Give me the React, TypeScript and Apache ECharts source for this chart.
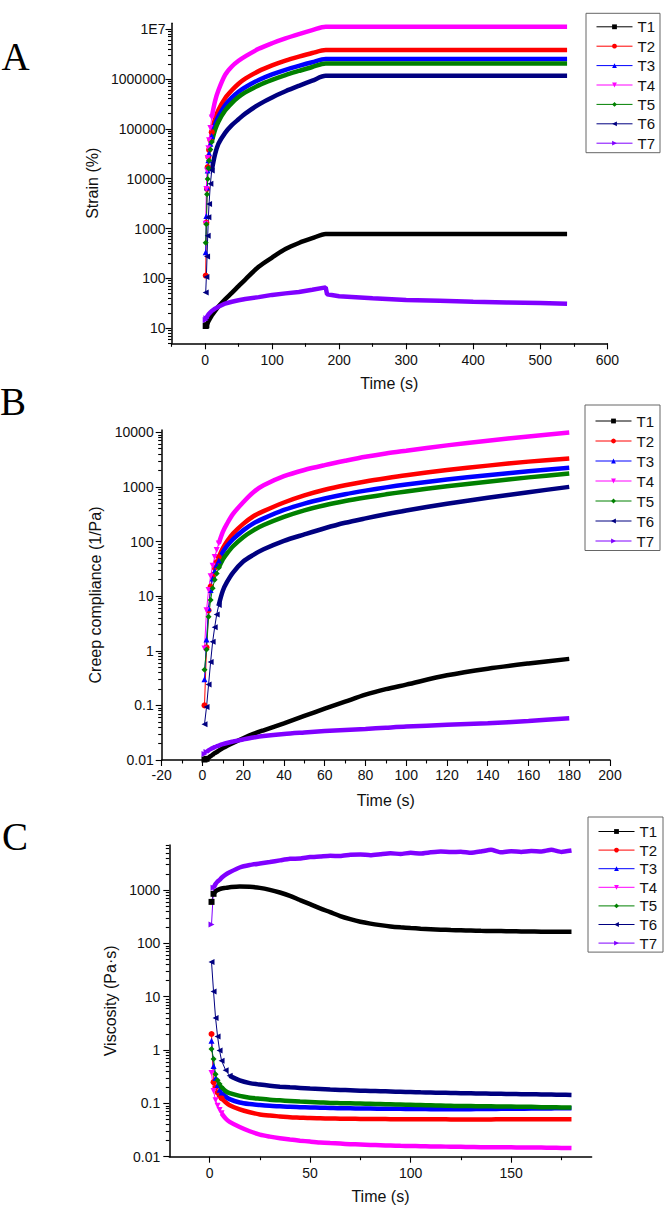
import React, { useEffect, useRef } from 'react';
import * as echarts from 'echarts';

const seriesNames = ['T1', 'T2', 'T3', 'T4', 'T5', 'T6', 'T7'];
const seriesColors = ['#000000', '#FF0000', '#0000FF', '#FF00FF', '#008000', '#000080', '#8000FF'];
const seriesSymbols = ['rect', 'circle', 'triangle', 'triangle', 'diamond', 'triangle', 'triangle'];
const symbolRotations = [0, 0, 0, 180, 0, 90, -90];

// ---------- Panel A : Strain (%) vs Time (s)
const timeA = [1, 2, 3, 4, 5, 6, 8, 10, 15, 20, 30, 40, 50, 60, 80, 100, 120, 140, 160, 180, 182, 200, 250, 300, 350, 400, 450, 500, 540];
const strainT1 = [11.1, 11.5, 12, 12.9, 13.7, 14.5, 16.2, 18, 22.4, 27.3, 38.2, 51.3, 70, 95, 171, 262, 388, 513, 639, 775, 775, 775, 775, 775, 775, 775, 775, 775, 775];
const strainT2 = [114, 1310, 6260, 17100, 27300, 37600, 59200, 85400, 159000, 239000, 410000, 590000, 797000, 1010000, 1430000, 1860000, 2320000, 2790000, 3300000, 3780000, 3780000, 3780000, 3780000, 3780000, 3780000, 3780000, 3780000, 3780000, 3780000];
const strainT3 = [334, 1780, 6670, 14500, 23400, 32200, 50000, 71200, 122000, 178000, 295000, 420000, 550000, 680000, 950000, 1230000, 1520000, 1820000, 2150000, 2490000, 2490000, 2490000, 2490000, 2490000, 2490000, 2490000, 2490000, 2490000, 2490000];
const strainT4 = [1240, 6200, 14600, 25900, 40500, 58600, 103600, 169000, 360000, 591000, 1200000, 1770000, 2300000, 2820000, 4000000, 5180000, 6470000, 7880000, 9460000, 11100000, 11100000, 11100000, 11100000, 11100000, 11100000, 11100000, 11100000, 11100000, 11100000];
const strainT5 = [520, 1220, 4870, 9850, 16200, 23200, 38200, 54500, 95000, 139000, 232000, 327000, 431000, 535000, 740000, 955000, 1190000, 1440000, 1730000, 2040000, 2040000, 2040000, 2040000, 2040000, 2040000, 2040000, 2040000, 2040000, 2040000];
const strainT6 = [52, 107, 276, 713, 1680, 3100, 7900, 14500, 31000, 50000, 82800, 118000, 155000, 201000, 305000, 425000, 564000, 725000, 920000, 1150000, 1150000, 1150000, 1150000, 1150000, 1150000, 1150000, 1150000, 1150000, 1150000];
const strainT7 = [14.7, 15.9, 17.1, 18, 18.8, 19.6, 20.9, 22.2, 24.8, 27.1, 31.3, 34.1, 36.4, 38.7, 42.1, 46.7, 50.1, 53.5, 59.2, 66, 48, 44, 40, 37, 35.5, 34, 33, 32, 31];

// ---------- Panel B : Creep compliance (1/Pa) vs Time (s)
const timeB = [1, 2, 3, 4, 5, 6, 7, 8, 10, 12, 15, 20, 25, 30, 40, 50, 60, 70, 80, 90, 100, 120, 140, 160, 180];
const complianceT1 = [0.0102, 0.0105, 0.011, 0.0118, 0.0125, 0.0133, 0.014, 0.0148, 0.0165, 0.018, 0.0205, 0.025, 0.03, 0.035, 0.047, 0.064, 0.087, 0.117, 0.157, 0.198, 0.24, 0.355, 0.47, 0.585, 0.71];
const complianceT2 = [0.1, 1.15, 5.5, 15, 24, 33, 42, 52, 75, 100, 140, 210, 290, 360, 518, 700, 887, 1070, 1255, 1440, 1633, 2037, 2450, 2900, 3320];
const complianceT3 = [0.3, 1.6, 6, 13, 21, 29, 37, 45, 64, 82, 110, 160, 215, 265, 378, 495, 612, 733, 854, 980, 1106, 1367, 1637, 1933, 2240];
const complianceT4 = [1.1, 5.5, 13, 23, 36, 52, 70, 92, 150, 210, 320, 525, 800, 1070, 1570, 2040, 2500, 3000, 3560, 4100, 4600, 5750, 7000, 8400, 9860];
const complianceT5 = [0.45, 1.05, 4.2, 8.5, 14, 20, 26, 33, 47, 60, 82, 120, 160, 200, 282, 372, 462, 550, 638, 730, 824, 1027, 1242, 1493, 1760];
const complianceT6 = [0.045, 0.093, 0.24, 0.62, 1.46, 2.7, 4.6, 6.9, 12.6, 18, 27, 43, 57, 72, 103, 135, 175, 220, 265, 315, 370, 490, 630, 800, 1000];
const complianceT7 = [0.0129, 0.014, 0.015, 0.0158, 0.0165, 0.0172, 0.0178, 0.0184, 0.0195, 0.0205, 0.0218, 0.0238, 0.0258, 0.0275, 0.03, 0.032, 0.034, 0.0355, 0.037, 0.039, 0.041, 0.044, 0.047, 0.052, 0.058];

// ---------- Panel C : Viscosity (Pa·s) vs Time (s)
const timeC = [1, 2, 3, 4, 5, 6, 8, 10, 15, 20, 25, 30, 35, 40, 45, 50, 55, 60, 65, 70, 75, 80, 85, 90, 95, 100, 105, 110, 115, 120, 125, 130, 135, 140, 145, 150, 155, 160, 165, 170, 175, 180];
const viscosityT1 = [600, 850, 950, 1000, 1040, 1070, 1100, 1130, 1170, 1150, 1100, 1010, 900, 780, 650, 545, 455, 385, 325, 285, 255, 235, 220, 208, 200, 194, 189, 185, 181, 178, 176, 174, 172, 171, 170, 169, 168, 167, 166, 166, 165, 165];
const viscosityT2 = [2.0, 0.25, 0.2, 0.16, 0.14, 0.125, 0.105, 0.092, 0.077, 0.068, 0.062, 0.059, 0.057, 0.055, 0.054, 0.053, 0.0525, 0.052, 0.0517, 0.0515, 0.0512, 0.051, 0.0508, 0.0506, 0.0505, 0.0504, 0.0503, 0.0502, 0.0502, 0.0501, 0.05, 0.05, 0.05, 0.0501, 0.0502, 0.0502, 0.0503, 0.0503, 0.0504, 0.0504, 0.0505, 0.0505];
const viscosityT3 = [1.5, 0.5, 0.3, 0.22, 0.18, 0.16, 0.135, 0.12, 0.104, 0.097, 0.093, 0.09, 0.088, 0.086, 0.085, 0.084, 0.083, 0.082, 0.081, 0.081, 0.08, 0.08, 0.0795, 0.079, 0.079, 0.0785, 0.0785, 0.078, 0.078, 0.078, 0.078, 0.078, 0.0785, 0.0785, 0.079, 0.079, 0.0795, 0.08, 0.08, 0.0805, 0.081, 0.081];
const viscosityT4 = [0.37, 0.17, 0.115, 0.09, 0.075, 0.065, 0.052, 0.045, 0.036, 0.03, 0.026, 0.0238, 0.0222, 0.021, 0.02, 0.0192, 0.0185, 0.018, 0.0176, 0.0172, 0.0169, 0.0166, 0.0164, 0.0162, 0.016, 0.0159, 0.0157, 0.0156, 0.0155, 0.0154, 0.0153, 0.0152, 0.0151, 0.0151, 0.015, 0.015, 0.0149, 0.0149, 0.0148, 0.0147, 0.0146, 0.0145];
const viscosityT5 = [1.05, 0.68, 0.35, 0.27, 0.23, 0.2, 0.17, 0.155, 0.138, 0.128, 0.122, 0.117, 0.114, 0.111, 0.108, 0.106, 0.104, 0.102, 0.101, 0.1, 0.099, 0.098, 0.097, 0.096, 0.095, 0.094, 0.093, 0.092, 0.091, 0.09, 0.089, 0.089, 0.088, 0.088, 0.087, 0.087, 0.086, 0.086, 0.085, 0.085, 0.084, 0.084];
const viscosityT6 = [45, 12.5, 4.0, 1.8, 0.98, 0.63, 0.42, 0.33, 0.27, 0.24, 0.225, 0.214, 0.206, 0.2, 0.195, 0.19, 0.186, 0.182, 0.179, 0.176, 0.173, 0.171, 0.169, 0.167, 0.165, 0.163, 0.161, 0.16, 0.158, 0.157, 0.155, 0.154, 0.153, 0.152, 0.151, 0.15, 0.149, 0.148, 0.147, 0.146, 0.145, 0.144];
const viscosityT7 = [227, 1100, 1300, 1450, 1550, 1700, 1950, 2150, 2650, 2950, 3150, 3350, 3600, 3850, 3900, 4150, 4250, 4400, 4350, 4600, 4650, 4500, 4700, 4900, 4750, 5000, 4850, 5100, 5300, 5150, 5250, 5000, 5300, 5700, 5100, 5350, 5200, 5400, 5300, 5700, 5200, 5500];

// ---------- Tick labels
const xTicksA = [0, 100, 200, 300, 400, 500, 600];
const xMinorA = [-50, 50, 150, 250, 350, 450, 550];
const xTicksB = [-20, 0, 20, 40, 60, 80, 100, 120, 140, 160, 180, 200];
const xMinorB = [-10, 10, 30, 50, 70, 90, 110, 130, 150, 170, 190];
const xTicksC = [0, 50, 100, 150];
const xMinorC = [25, 75, 125, 175];
const yTicksA = [10, 100, 1000, 10000, 100000, 1000000, 10000000];
const yTicksB = [0.01, 0.1, 1, 10, 100, 1000, 10000];
const yTicksC = [0.01, 0.1, 1, 10, 100, 1000];

const FONT = "'Liberation Sans', Arial, sans-serif";
const TEXT = '#111';

function minorLogTicks(lo: number, hi: number) {
  const out: number[] = [];
  for (let e = -3; e <= 8; e++) {
    for (let m = 2; m <= 9; m++) {
      const v = parseFloat((m * Math.pow(10, e)).toPrecision(6));
      if (v >= lo && v <= hi) out.push(v);
    }
  }
  return out;
}

const panels = [
  {
    grid: { left: 171.5, top: 23.3, width: 435.8, height: 320 },
    xMin: -50, xMax: 600, xTicks: xTicksA, xMinor: xMinorA, xLabelMargin: 10,
    yMin: 5, yMax: 1.3e7, yTicks: yTicksA, yName: 'Strain (%)', yNameGap: 71, yLabelMargin: 6,
    times: timeA, values: [strainT1, strainT2, strainT3, strainT4, strainT5, strainT6, strainT7],
    splits: [1, 7, 7, 7, 7, 7, 1],
    smooth: [0.3, 0.3, 0.3, 0.3, 0.3, 0.3, 0],
    legend: { left: 586, top: 13.3, itemGap: 4.4, padding: [6, 5, 2, 10] },
  },
  {
    grid: { left: 161.7, top: 430, width: 448.3, height: 330 },
    xMin: -20, xMax: 200, xTicks: xTicksB, xMinor: xMinorB, xLabelMargin: 8,
    yMin: 0.01, yMax: 1.1e4, yTicks: yTicksB, yName: 'Creep compliance (1/Pa)', yNameGap: 57, yLabelMargin: 8,
    times: timeB, values: [complianceT1, complianceT2, complianceT3, complianceT4, complianceT5, complianceT6, complianceT7],
    splits: [1, 7, 7, 7, 7, 7, 1],
    smooth: [0.3, 0.3, 0.3, 0.3, 0.3, 0.3, 0.3],
    legend: { left: 585, top: 405, itemGap: 5, padding: [8.5, 6, 2, 10] },
  },
  {
    grid: { left: 169.3, top: 845, width: 422.3, height: 311.7 },
    xMin: -20, xMax: 190, xTicks: xTicksC, xMinor: xMinorC, xLabelMargin: 9,
    yMin: 0.01, yMax: 7000, yTicks: yTicksC, yName: 'Viscosity (Pa·s)', yNameGap: 43, yLabelMargin: 9,
    times: timeC, values: [viscosityT1, viscosityT2, viscosityT3, viscosityT4, viscosityT5, viscosityT6, viscosityT7],
    splits: [1, 5, 5, 5, 5, 7, 1],
    smooth: [0.3, 0.3, 0.3, 0.3, 0.3, 0.3, 0.15],
    legend: { left: 588, top: 817, itemGap: 3.6, padding: [7, 6, 1.5, 10] },
  },
];

function yLabel(v: number) {
  if (v >= 1e7) return '1E7';
  return String(v);
}

function buildOption() {
  const grid: any[] = [];
  const xAxis: any[] = [];
  const yAxis: any[] = [];
  const legend: any[] = [];
  const series: any[] = [];

  panels.forEach((p, pi) => {
    grid.push({ ...p.grid, containLabel: false, outerBoundsMode: 'none' });
    const lineSt = { color: '#000', width: 1.5 };
    const tickSt = { color: '#000', width: 1.1 };
    xAxis.push({
      type: 'value', gridIndex: pi, min: p.xMin, max: p.xMax, position: 'bottom',
      axisLine: { show: true, onZero: false, lineStyle: lineSt },
      axisTick: { show: true, inside: false, length: 6, customValues: p.xTicks, lineStyle: tickSt },
      axisLabel: { customValues: p.xTicks, margin: p.xLabelMargin, fontSize: 14, color: TEXT, fontFamily: FONT },
      splitLine: { show: false },
      name: 'Time (s)', nameLocation: 'middle', nameGap: 32,
      nameTextStyle: { fontSize: 16, color: TEXT, fontFamily: FONT },
    });
    xAxis.push({
      type: 'value', gridIndex: pi, min: p.xMin, max: p.xMax, position: 'bottom',
      axisLine: { show: false, onZero: false },
      axisTick: { show: true, inside: false, length: 3.5, customValues: p.xMinor, lineStyle: tickSt },
      axisLabel: { show: false },
      splitLine: { show: false },
    });
    yAxis.push({
      type: 'log', logBase: 10, gridIndex: pi, min: p.yMin, max: p.yMax, position: 'left',
      axisLine: { show: true, onZero: false, lineStyle: lineSt },
      axisTick: { show: true, inside: false, length: 6, customValues: p.yTicks, lineStyle: tickSt },
      axisLabel: { customValues: p.yTicks, formatter: yLabel, margin: p.yLabelMargin, fontSize: 14, color: TEXT, fontFamily: FONT },
      splitLine: { show: false },
      name: p.yName, nameLocation: 'middle', nameGap: p.yNameGap, nameRotate: 90,
      nameTextStyle: { fontSize: 16, color: TEXT, fontFamily: FONT },
    });
    yAxis.push({
      type: 'log', logBase: 10, gridIndex: pi, min: p.yMin, max: p.yMax, position: 'left',
      axisLine: { show: false, onZero: false },
      axisTick: { show: true, inside: false, length: 3.5, customValues: minorLogTicks(p.yMin, p.yMax), lineStyle: tickSt },
      axisLabel: { show: false },
      splitLine: { show: false },
    });

    legend.push({
      orient: 'vertical', left: p.legend.left, top: p.legend.top,
      itemWidth: 36, itemHeight: 6, itemGap: p.legend.itemGap, padding: p.legend.padding,
      borderColor: '#666', borderWidth: 1, backgroundColor: '#fff',
      textStyle: { fontSize: 15, color: TEXT, fontFamily: FONT },
      data: seriesNames, lineStyle: { width: 1 }, selectedMode: false,
    });

    p.values.forEach((vals, i) => {
      const pts = p.times.map((t, j) => [t, vals[j]]);
      const k = p.splits[i];
      const color = seriesColors[i];
      const common = {
        type: 'line', name: seriesNames[i], xAxisIndex: pi * 2, yAxisIndex: pi * 2,
        symbol: seriesSymbols[i], symbolRotate: symbolRotations[i], color,
        itemStyle: { color }, animation: false, silent: true,
      };
      series.push({ ...common, data: pts.slice(0, k + 1), symbolSize: 6, showSymbol: true, showAllSymbol: true, lineStyle: { width: 1, color }, z: 3 });
      series.push({
        ...common, data: pts.slice(k), showSymbol: false,
        smooth: p.smooth[i] || false,
        lineStyle: { width: 4.5, color }, z: 2,
      });
    });
  });

  const letter = (t: string, x: number, y: number) => ({
    type: 'text', x, y,
    style: { text: t, fontSize: 39, fontFamily: "'Liberation Serif', 'Times New Roman', serif", fill: '#000', align: 'center', verticalAlign: 'middle' },
  });

  return {
    animation: false,
    backgroundColor: '#fff',
    grid, xAxis, yAxis, legend, series,
    graphic: [letter('A', 15.5, 56), letter('B', 13, 401.5), letter('C', 15, 836)],
  };
}

export default function App() {
  const ref = useRef<HTMLDivElement>(null);
  useEffect(() => {
    if (!ref.current) return;
    const chart = echarts.init(ref.current, null, { renderer: 'svg', width: 669, height: 1212 });
    chart.setOption(buildOption() as any);
    return () => chart.dispose();
  }, []);
  return <div ref={ref} style={{ position: 'absolute', left: 0, top: 0, width: 669, height: 1212, background: '#fff' }} />;
}
